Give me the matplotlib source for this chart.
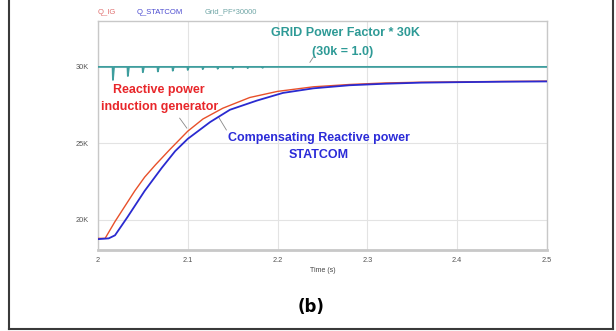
import numpy as np
import matplotlib.pyplot as plt
from matplotlib.lines import Line2D

# data (values in kVAr, time in s)
t_ig = [2.0, 2.008, 2.019, 2.03, 2.041, 2.052, 2.064, 2.08, 2.1, 2.117, 2.139,
        2.169, 2.2, 2.24, 2.28, 2.32, 2.36, 2.4, 2.45, 2.5]
q_ig = [18.8, 18.8, 19.9, 20.9, 21.9, 22.8, 23.6, 24.6, 25.8, 26.6, 27.3,
        28.0, 28.4, 28.7, 28.85, 28.95, 29.0, 29.02, 29.05, 29.07]

t_st = [2.0, 2.012, 2.019, 2.033, 2.052, 2.071, 2.086, 2.1, 2.125, 2.147, 2.177,
        2.206, 2.24, 2.28, 2.32, 2.36, 2.4, 2.45, 2.5]
q_st = [18.75, 18.8, 19.0, 20.2, 21.9, 23.4, 24.5, 25.3, 26.4, 27.2, 27.8,
        28.3, 28.6, 28.8, 28.9, 28.97, 29.0, 29.03, 29.05]

pf_level = 30.0
spike_t = [2.0167, 2.0333, 2.05, 2.0667, 2.0833, 2.1, 2.1167, 2.1333, 2.15, 2.1667, 2.1833]
spike_d = [0.85, 0.6, 0.35, 0.3, 0.25, 0.2, 0.15, 0.12, 0.1, 0.08, 0.06]

xticks = [2.0, 2.1, 2.2, 2.3, 2.4, 2.5]
xlabels = ['2', '2.1', '2.2', '2.3', '2.4', '2.5']
yticks = [20, 25, 30]
ylabels = ['20K', '25K', '30K']

# grid power factor trace with the short dips
pf_t = [2.0]
pf_v = [pf_level]
for ts, d in zip(spike_t, spike_d):
    pf_t += [ts - 0.0004, ts, ts + 0.0012]
    pf_v += [pf_level, pf_level - d, pf_level]
pf_t.append(2.5)
pf_v.append(pf_level)

plt.rcParams['font.family'] = ['Liberation Sans', 'DejaVu Sans']

fig = plt.figure(figsize=(6.16, 3.31), dpi=100)
ax = fig.add_axes([0.159, 0.2447, 0.729, 0.692])

ax.plot(t_ig, q_ig, color='#e8502a', lw=1.0, zorder=3)
ax.plot(t_st, q_st, color='#2a2ad0', lw=1.3, zorder=4)
ax.plot(pf_t, pf_v, color='#3e9e9e', lw=1.3, zorder=5)

ax.set_xlim(2.0, 2.5)
ax.set_ylim(18.04, 33.0)
ax.set_xticks(xticks)
ax.set_xticklabels(xlabels)
ax.set_yticks(yticks)
ax.set_yticklabels(ylabels)
ax.tick_params(length=0, labelsize=5.3, labelcolor='#555555')
ax.tick_params(axis='y', pad=6.5)
ax.tick_params(axis='x', pad=5)
ax.grid(color='#e3e3e3', lw=0.8)
ax.set_axisbelow(True)
for s in ax.spines.values():
    s.set_color('#c8c8c8')
    s.set_linewidth(1.0)
ax.spines['bottom'].set_linewidth(2.0)
ax.set_xlabel('Time (s)', fontsize=5, color='#444444', labelpad=2)

# annotations
ax.text(2.276, 32.2, 'GRID Power Factor * 30K', color='#2e9a96', fontsize=9,
        fontweight='bold', ha='center', va='center')
ax.text(2.272, 31.0, '(30k = 1.0)', color='#2e9a96', fontsize=9,
        fontweight='bold', ha='center', va='center')
ax.plot([2.236, 2.240], [30.3, 30.65], color='#888888', lw=0.6)

ax.text(2.068, 28.5, 'Reactive power', color='#e8262a', fontsize=9,
        fontweight='bold', ha='center', va='center')
ax.text(2.069, 27.4, 'induction generator', color='#e8262a', fontsize=9,
        fontweight='bold', ha='center', va='center')
ax.plot([2.091, 2.099], [26.65, 26.0], color='#888888', lw=0.6)

ax.text(2.246, 25.36, 'Compensating Reactive power', color='#2b2bd8', fontsize=9,
        fontweight='bold', ha='center', va='center')
ax.text(2.246, 24.25, 'STATCOM', color='#2b2bd8', fontsize=9,
        fontweight='bold', ha='center', va='center')
ax.plot([2.134, 2.143], [26.75, 25.88], color='#888888', lw=0.6)

# legend labels above the plot
fig.text(0.159, 0.9637, 'Q_IG', color='#e07070', fontsize=5.5, va='center')
fig.text(0.2224, 0.9637, 'Q_STATCOM', color='#4b4bd0', fontsize=5.5, va='center')
fig.text(0.3328, 0.9637, 'Grid_PF*30000', color='#70a6a6', fontsize=5.5, va='center')

fig.text(0.505, 0.072, '(b)', fontsize=12, fontweight='bold',
         family='DejaVu Sans', ha='center', va='center')

# frame around the figure
fig.add_artist(Line2D([0.0141, 0.0141], [0.006, 1.0], color='#3a3a3a', lw=1.5))
fig.add_artist(Line2D([0.9948, 0.9948], [0.006, 1.0], color='#3a3a3a', lw=1.5))
fig.add_artist(Line2D([0.0141, 0.9948], [0.006, 0.006], color='#3a3a3a', lw=1.5))

fig.savefig('out.png', dpi=100)
